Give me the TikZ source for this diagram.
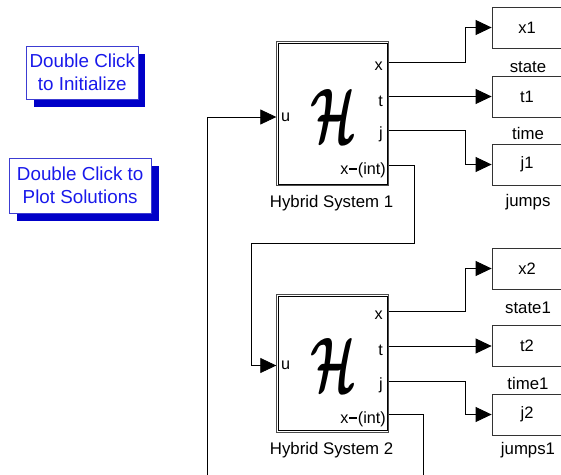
\documentclass[tikz,border=0pt]{standalone}
\usepackage{amsmath}
\usepackage{fontspec}
\setmainfont{Liberation Sans}
\usetikzlibrary{arrows.meta,shadows}
\definecolor{btnblue}{RGB}{25,25,235}
\definecolor{btnline}{RGB}{60,60,210}
\definecolor{shblue}{RGB}{0,0,200}
\newcommand{\intdash}{\kern0.05em\rule[0.24em]{0.48em}{0.14em}\kern0.05em}
\begin{document}
\begin{tikzpicture}[x=1pt,y=-1pt,
  wire/.style={draw=black,line width=0.8pt},
  arr/.style={-{Triangle[length=16pt,width=15pt]}},
  blk/.style={draw=black!70,line width=0.7pt,minimum width=112.4pt,inner sep=0pt},
  inner/.style={draw=black,line width=0.9pt},
  sink/.style={draw=black!80,line width=0.8pt,minimum width=70pt,minimum height=41pt,inner sep=0pt,font=\fontsize{16.5}{16}\selectfont},
  lbl/.style={font=\fontsize{16.8}{16}\selectfont,inner sep=0pt},
  port/.style={font=\fontsize{16.2}{16}\selectfont,inner sep=0pt},
  btn/.style={draw=btnline,line width=0.7pt,fill=white,text=btnblue,align=center,inner sep=0pt,
    font=\fontsize{18.8}{23}\selectfont,
    general shadow={fill=shblue,shadow xshift=7.5pt,shadow yshift=-7.5pt}},
  hsym/.style={inner sep=0pt}
]
\useasboundingbox (0,0) rectangle (561,474);
\clip (0,0) rectangle (561,474);

% buttons
\node[btn,minimum width=111.3pt,minimum height=53pt] (init) at (82.3,72.5) {Double Click\\to Initialize};
\node[btn,minimum width=141.7pt,minimum height=55pt] (plot) at (80.2,185.5) {Double Click to\\Plot Solutions};

% hybrid system blocks
\node[blk,minimum height=144pt] (H1) at (332.5,113.7) {};
\draw[inner] ([shift={(2,2)}]H1.north west) rectangle ([shift={(-2,-2)}]H1.south east);
\node[hsym] (H1sym) at (334,116) {\resizebox{46pt}{53pt}{$\boldsymbol{\mathcal{H}}$}};
\node[lbl] (H1lab) at (331.5,203.5) {Hybrid System 1};

\node[blk,minimum height=138pt] (H2) at (332.5,363.3) {};
\draw[inner] ([shift={(2,2)}]H2.north west) rectangle ([shift={(-2,-2)}]H2.south east);
\node[hsym] (H2sym) at (334,365) {\resizebox{46pt}{53pt}{$\boldsymbol{\mathcal{H}}$}};
\node[lbl] (H2lab) at (331.5,450.5) {Hybrid System 2};

% port coordinates
\coordinate (H1x) at (388.7,62);
\coordinate (H1t) at (388.7,96.5);
\coordinate (H1j) at (388.7,130);
\coordinate (H1i) at (388.7,165);
\coordinate (H1u) at (276.3,117);
\coordinate (H2x) at (388.7,311);
\coordinate (H2t) at (388.7,346);
\coordinate (H2j) at (388.7,381);
\coordinate (H2i) at (388.7,414);
\coordinate (H2u) at (276.3,365.5);

% port labels
\node[port,anchor=east] (p1x) at (383,66.5) {x};
\node[port,anchor=east] (p1t) at (383,101) {t};
\node[port,anchor=east] (p1j) at (383,134.5) {j};
\node[port,anchor=east] (p1i) at (386,170) {x\intdash(int)};
\node[port,anchor=west] (p1u) at (281,117) {u};
\node[port,anchor=east] (p2x) at (383,315.5) {x};
\node[port,anchor=east] (p2t) at (383,350.5) {t};
\node[port,anchor=east] (p2j) at (383,385.5) {j};
\node[port,anchor=east] (p2i) at (386,419) {x\intdash(int)};
\node[port,anchor=west] (p2u) at (281,365.5) {u};

% sinks
\node[sink] (X1) at (527,27.5) {x1};
\node[lbl] (X1lab) at (528,67) {state};
\node[sink] (T1) at (527,96.5) {t1};
\node[lbl] (T1lab) at (528,133) {time};
\node[sink] (J1) at (527,164.5) {j1};
\node[lbl] (J1lab) at (528,202) {jumps};
\node[sink] (X2) at (527,268.5) {x2};
\node[lbl] (X2lab) at (528,308) {state1};
\node[sink] (T2) at (527,346) {t2};
\node[lbl] (T2lab) at (528,383) {time1};
\node[sink] (J2) at (527,414.5) {j2};
\node[lbl] (J2lab) at (528,450) {jumps1};

% outputs
\draw[wire,arr] (H1x) -- ++(77,0) |- (X1.west);
\draw[wire,arr] (H1t) -- (T1.west);
\draw[wire,arr] (H1j) -- ++(77,0) |- (J1.west);
\draw[wire,arr] (H2x) -- ++(77,0) |- (X2.west);
\draw[wire,arr] (H2t) -- (T2.west);
\draw[wire,arr] (H2j) -- ++(77,0) |- (J2.west);

% interconnections
\coordinate (k1) at (414,243);
\coordinate (k2) at (251,243);
\coordinate (fbL) at (207,480);
\coordinate (fbR) at (423,480);
\draw[wire,arr] (H1i) -| (k1) -- (k2) |- (H2u);
\draw[wire,arr] (fbL) |- (H1u);
\draw[wire] (H2i) -| (fbR);
\end{tikzpicture}
\end{document}
